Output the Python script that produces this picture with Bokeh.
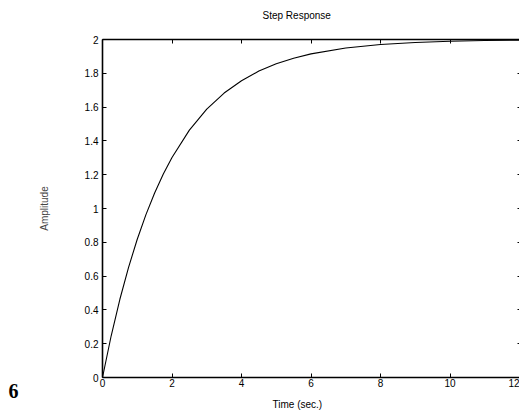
from bokeh.plotting import figure
from bokeh.models import Range1d, FixedTicker, LinearAxis, Title
from bokeh.embed import file_html
from bokeh.resources import INLINE

# Step response
time_s = [0, 0.25, 0.5, 0.75, 1, 1.25, 1.5, 1.75, 2, 2.5, 3, 3.5, 4, 4.5, 5,
          5.5, 6, 7, 8, 9, 10, 11, 12]
amplitude = [0, 0.247, 0.463, 0.652, 0.818, 0.964, 1.092, 1.204, 1.302, 1.464,
             1.588, 1.683, 1.756, 1.813, 1.856, 1.889, 1.915, 1.950, 1.970,
             1.982, 1.990, 1.994, 1.996]

x_ticks = [0, 2, 4, 6, 8, 10, 12]
x_labels = ["0", "2", "4", "6", "8", "10", "12"]
y_ticks = [0, 0.2, 0.4, 0.6, 0.8, 1, 1.2, 1.4, 1.6, 1.8, 2]
y_labels = ["0", "0.2", "0.4", "0.6", "0.8", "1", "1.2", "1.4", "1.6", "1.8", "2"]

title_text = "Step Response"
x_title = "Time (sec.)"
y_title = "Amplitude"
page_number = "6"

FONT = "Liberation Sans"
W, H = 519, 417

p = figure(width=W, height=H, output_backend="svg", toolbar_location=None,
           x_axis_location=None, y_axis_location=None,
           x_range=Range1d(0, 12), y_range=Range1d(0, 2),
           min_border_left=102, min_border_right=0,
           min_border_top=39, min_border_bottom=40)
p.outline_line_color = None
p.xgrid.visible = False
p.ygrid.visible = False
p.background_fill_color = "white"
p.border_fill_color = "white"


def style(ax, ticks, labels, show_labels=True):
    ax.ticker = FixedTicker(ticks=ticks)
    ax.major_tick_in = 4
    ax.major_tick_out = 0
    ax.minor_tick_in = 0
    ax.minor_tick_out = 0
    ax.axis_line_color = "black"
    ax.axis_line_width = 1.6
    ax.major_tick_line_color = "black"
    ax.major_tick_line_width = 1
    ax.major_label_text_font = FONT
    ax.major_label_text_color = "black"
    ax.major_label_text_font_size = "10px"
    if show_labels:
        ax.major_label_overrides = dict(zip(ticks, labels))
    else:
        ax.major_label_overrides = {t: "" for t in ticks}
        ax.major_label_standoff = 0


left = LinearAxis()
style(left, y_ticks, y_labels)
left.major_label_standoff = 4
left.axis_label = y_title
left.axis_label_text_font = FONT
left.axis_label_text_font_size = "10px"
left.axis_label_text_font_style = "normal"
left.axis_label_standoff = 32
p.add_layout(left, "left")

bottom = LinearAxis()
style(bottom, x_ticks, x_labels)
bottom.major_label_standoff = 1
p.add_layout(bottom, "below")

top = LinearAxis()
style(top, x_ticks, x_labels, show_labels=False)
p.add_layout(top, "above")

right = LinearAxis()
style(right, y_ticks, y_labels, show_labels=False)
right.axis_line_color = None
right.major_tick_in = 2
p.add_layout(right, "right")

p.line(time_s, amplitude, line_color="black", line_width=1.1)

# a trailing blank line makes the title panel taller so the text sits higher
p.add_layout(Title(text=title_text + "\n", align="left", offset=160,
                   vertical_align="top", standoff=11,
                   text_font=FONT, text_font_size="10px",
                   text_font_style="normal", text_color="black"), "above")

p.add_layout(Title(text=page_number, align="left", offset=-94,
                   vertical_align="top", standoff=-11,
                   text_font="Liberation Serif", text_font_size="20px",
                   text_font_style="bold", text_color="black"), "below")
p.add_layout(Title(text=x_title, align="left", offset=170,
                   vertical_align="top", standoff=9,
                   text_font=FONT, text_font_size="10px",
                   text_font_style="normal", text_color="black"), "below")

open("out.html", "w").write(file_html(p, INLINE))
